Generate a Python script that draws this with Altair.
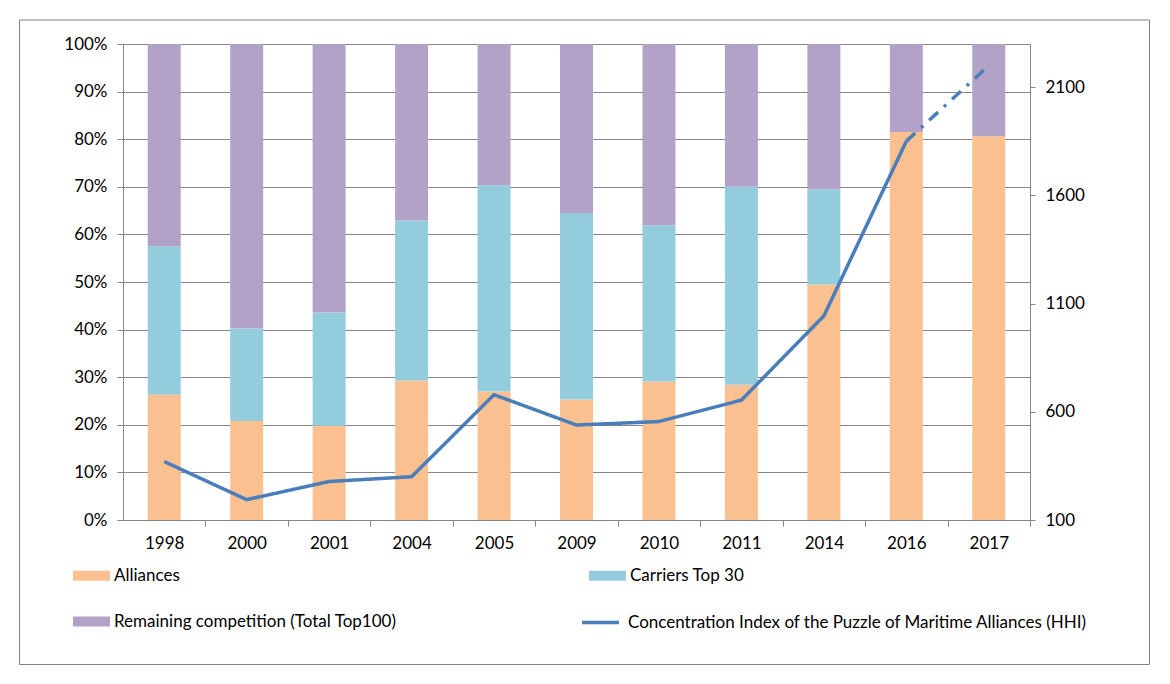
import altair as alt
import pandas as pd

years = ['1998', '2000', '2001', '2004', '2005', '2009', '2010', '2011', '2014', '2016', '2017']
alliances = [0.263, 0.208, 0.198, 0.293, 0.270, 0.253, 0.291, 0.284, 0.495, 0.815, 0.806]
carriers_top30 = [0.312, 0.195, 0.238, 0.336, 0.433, 0.392, 0.328, 0.416, 0.200, 0.0, 0.0]
remaining = [0.425, 0.597, 0.564, 0.371, 0.297, 0.355, 0.381, 0.300, 0.305, 0.185, 0.194]
hhi = [370, 194, 278, 300, 679, 539, 555, 654, 1043, 1851, 2200]

series_names = ['Alliances', 'Carriers Top 30', 'Remaining competition (Total Top100)']
series_colors = ['#FAC090', '#93CDDD', '#B3A2C7']
line_name = 'Concentration Index of the Puzzle of Maritime Alliances (HHI)'
line_color = '#4A7EBB'
grey = '#868686'
FONT = 'Lato'
FS = 17

W, H = 907, 476
half_step = W / len(years) / 2

rows = []
for i, y in enumerate(years):
    for k, (name, vals) in enumerate(zip(series_names, [alliances, carriers_top30, remaining])):
        rows.append({'year': y, 'series': name, 'share': vals[i], 'ord': k})
bar_df = pd.DataFrame(rows)

line_rows = []
for i, y in enumerate(years):
    if i <= 9:
        line_rows.append({'year': y, 'hhi': hhi[i], 'seg': 'a', 'series': line_name})
    if i >= 9:
        line_rows.append({'year': y, 'hhi': hhi[i], 'seg': 'b', 'series': line_name})
line_df = pd.DataFrame(line_rows)

x_enc = alt.X('year:N', sort=years, title=None,
              scale=alt.Scale(paddingInner=0.6, paddingOuter=0.3),
              axis=alt.Axis(labelAngle=0, tickOffset=half_step, labelOffset=-half_step,
                            tickSize=6, labelPadding=9,
                            domainColor=grey, tickColor=grey, labelFont=FONT,
                            labelFontSize=FS, labelColor='#000000'))

bars = alt.Chart(bar_df).mark_bar().encode(
    x=x_enc,
    y=alt.Y('share:Q', stack='zero', title=None,
            scale=alt.Scale(domain=[0, 1]),
            axis=alt.Axis(values=[i / 10 for i in range(11)], format='.0%', grid=True,
                          gridColor=grey, domainColor=grey, tickColor=grey, tickSize=6,
                          labelPadding=10, labelFont=FONT, labelFontSize=FS,
                          labelColor='#000000')),
    color=alt.Color('series:N', scale=alt.Scale(domain=series_names, range=series_colors),
                    legend=alt.Legend(orient='none', legendX=-50, legendY=513, columns=2,
                                      direction='horizontal',
                                      columnPadding=192, rowPadding=19, title=None,
                                      symbolType='M-1,-0.27L1,-0.27L1,0.27L-1,0.27Z',
                                      symbolSize=1369, symbolStrokeWidth=0,
                                      labelFont=FONT, labelFontSize=FS, labelLimit=600,
                                      labelColor='#000000', labelOffset=4)),
    order=alt.Order('ord:Q')
)

lines = alt.Chart(line_df).mark_line(strokeWidth=3.5).encode(
    x=x_enc,
    y=alt.Y('hhi:Q', title=None, scale=alt.Scale(domain=[100, 2300]),
            axis=alt.Axis(orient='right', values=[100, 600, 1100, 1600, 2100], format='d',
                          grid=False, domainColor=grey, tickColor=grey, tickSize=5,
                          labelPadding=10, labelFont=FONT, labelFontSize=FS,
                          labelColor='#000000')),
    stroke=alt.Stroke('series:N', scale=alt.Scale(range=[line_color]),
                      legend=alt.Legend(orient='none', legendX=457, legendY=558, title=None,
                                        symbolType='stroke', symbolSize=1369,
                                        symbolStrokeWidth=3.5, labelFont=FONT,
                                        labelFontSize=FS, labelLimit=600,
                                        labelColor='#000000', labelOffset=7)),
    strokeDash=alt.StrokeDash('seg:N', scale=alt.Scale(domain=['a', 'b'],
                                                      range=[[1, 0], [12, 8, 3, 8]]),
                              legend=None)
)

frame = alt.Chart(alt.Data(values=[{}])).mark_rect(fillOpacity=0, stroke='#808080',
                                                   strokeWidth=1).encode(
    x=alt.value(-103.5), x2=alt.value(1026.5), y=alt.value(-24), y2=alt.value(620.5)
)

chart = alt.layer(frame, bars, lines).resolve_scale(y='independent').properties(
    width=W, height=H,
    padding={'left': 11, 'top': 11, 'right': 5, 'bottom': 5}
).configure_view(stroke=None).configure_legend(padding=0)

chart.save('out.html', embed_options={'renderer': 'svg', 'actions': False})
